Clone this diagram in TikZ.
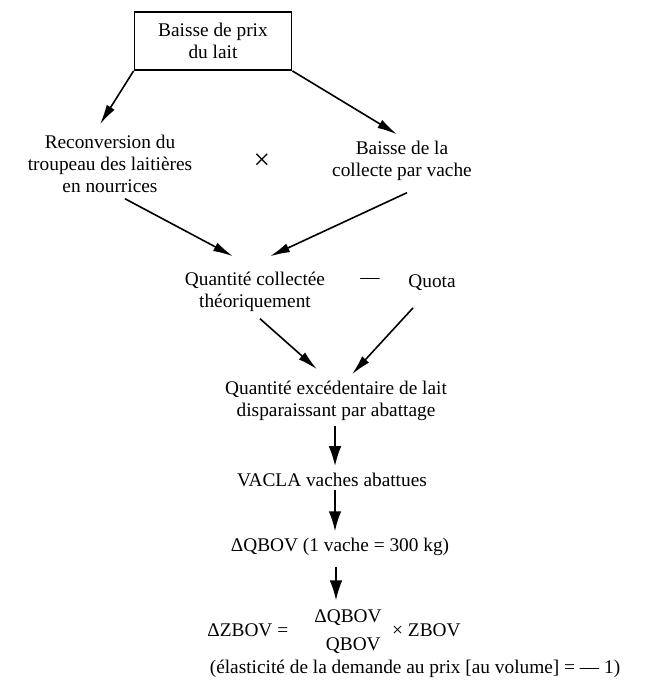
\documentclass[tikz,border=0pt]{standalone}
\usepackage{fontspec}
\setmainfont{Liberation Serif}
\usetikzlibrary{positioning,arrows.meta}

\begin{document}
\begin{tikzpicture}[x=0.75pt,y=-0.75pt,
txt/.style={align=center,font=\fontsize{14.5}{16.5}\selectfont,inner sep=2pt},
box/.style={txt,draw,line width=1.4pt,minimum width=117.75pt,minimum height=43.5pt},
arr/.style={line width=1.2pt,-{Latex[length=15pt,width=7pt]}},
darr/.style={line width=1.5pt,-{Latex[length=15pt,width=9.5pt]}}]
\useasboundingbox (0,0) rectangle (653,686);

% nodes
\node (prix) [box] at (213,41) {Baisse de prix\\du lait};
\node (reconv) [txt] at (110,164) {Reconversion du\\troupeau des laitières\\en nourrices};
\node (fois) [txt,font=\fontsize{22}{22}\selectfont] at (262,162) {×};
\node (collecte) [txt] at (402,161) {Baisse de la\\collecte par vache};
\node (qcoll) [txt] at (255,292) {Quantité collectée\\théoriquement};
\node (moins) [txt] at (370,281) {—};
\node (quota) [txt] at (432,283) {Quota};
\node (exced) [txt] at (336,401) {Quantité excédentaire de lait\\disparaissant par abattage};
\node (vacla) [txt] at (332,480) {VACLA vaches abattues};
\node (dqbov) [txt] at (340,547) {ΔQBOV (1 vache = 300 kg)};
\node (dzbov) [txt] at (334,632) {ΔZBOV = \hspace{16pt}\begin{tabular}{@{}c@{}}ΔQBOV\\[4pt]\hspace{8pt}QBOV\end{tabular}\hspace{8pt}× ZBOV};
\node (elast) [txt] at (415,669) {(élasticité de la demande au prix [au volume] = — 1)};

% arrows
\draw[arr] (prix.south west) -- ([shift={(-10,-8)}]reconv.north);
\draw[arr] (prix.south east) -- ([shift={(-5,-4)}]collecte.north);
\draw[arr] ([shift={(15,3)}]reconv.south) -- ([shift={(-22,-13)}]qcoll.north);
\draw[arr] ([shift={(5,9)}]collecte.south) -- ([shift={(15,-13)}]qcoll.north);
\draw[arr] ([shift={(5,4)}]qcoll.south) -- ([shift={(-19,-9)}]exced.north);
\draw[arr] ([shift={(-19,14)}]quota.south) -- ([shift={(16,-4)}]exced.north);
\draw[darr] ([shift={(-1,2)}]exced.south) -- ([shift={(-1,-4)}]exced.south |- vacla.north);
\draw[darr] ([shift={(3,0)}]vacla.south) -- ([shift={(3,-4)}]vacla.south |- dqbov.north);
\draw[darr] ([shift={(-4,8)}]dqbov.south) -- ([shift={(-4,-4)}]dqbov.south |- dzbov.north);
\end{tikzpicture}
\end{document}
